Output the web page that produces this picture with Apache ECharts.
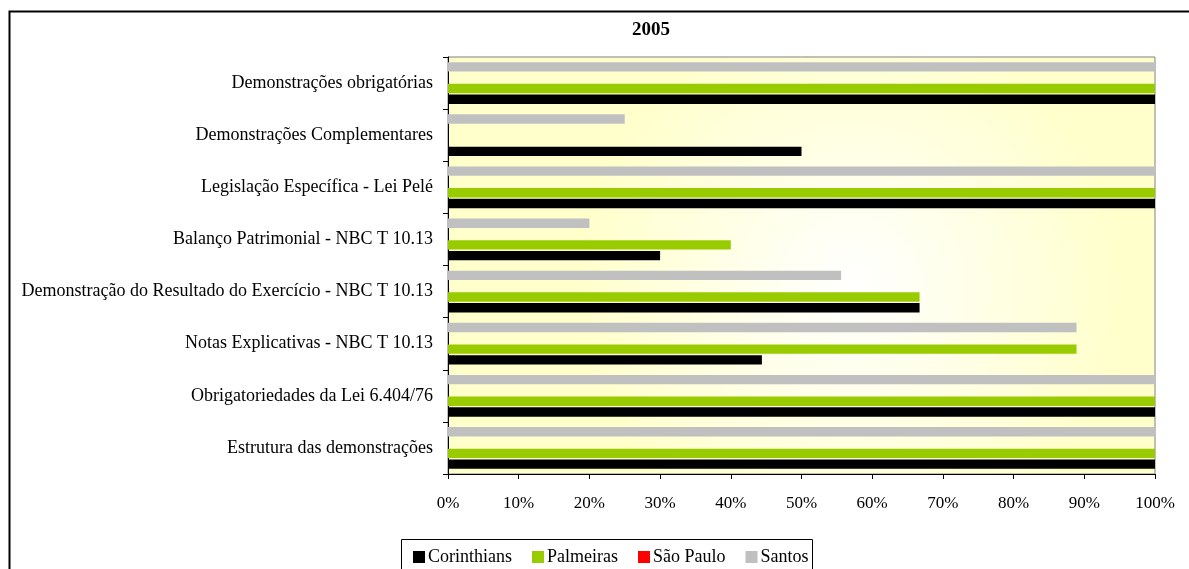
<!DOCTYPE html>
<html>
<head>
<meta charset="utf-8">
<script src="https://cdn.jsdelivr.net/npm/echarts@6/dist/echarts.min.js"></script>
<style>html,body{margin:0;padding:0;background:#fff}#c{width:1189px;height:569px}</style>
</head>
<body>
<div id="c"></div>
<script>
var categories = [
  'Estrutura das demonstrações',
  'Obrigatoriedades da Lei 6.404/76',
  'Notas Explicativas - NBC T 10.13',
  'Demonstração do Resultado do Exercício - NBC T 10.13',
  'Balanço Patrimonial - NBC T 10.13',
  'Legislação Específica - Lei Pelé',
  'Demonstrações Complementares',
  'Demonstrações obrigatórias'
];
var corinthians = [100, 100, 44.4, 66.7, 30, 100, 50, 100];
var palmeiras   = [100, 100, 88.9, 66.7, 40, 100, 0, 100];
var saoPaulo    = [0, 0, 0, 0, 0, 0, 0, 0];
var santos      = [100, 100, 88.9, 55.6, 20, 100, 25, 100];
var xTicks = [0, 10, 20, 30, 40, 50, 60, 70, 80, 90, 100];

var font = 'Liberation Serif, Times New Roman, serif';
var chart = echarts.init(document.getElementById('c'), null, {renderer: 'canvas'});

function mk(name, data, color) {
  return {
    name: name, type: 'bar', data: data,
    itemStyle: {color: color},
    barCategoryGap: '20%', barGap: '15%',
    animation: false
  };
}

chart.setOption({
  animation: false,
  textStyle: {fontFamily: font},
  title: {
    text: '2005', left: 627, top: 16,
    textStyle: {fontFamily: font, fontSize: 19, fontWeight: 'bold', color: '#000'}
  },
  graphic: [
    {type: 'rect', left: 7, top: 9, shape: {width: 1250, height: 650}, silent: true,
     style: {fill: null, stroke: '#000', lineWidth: 2}, z: -10},
    {type: 'rect', left: 401, top: 539, shape: {width: 411, height: 60}, silent: true,
     style: {fill: '#fff', stroke: '#000', lineWidth: 1}, z: 0}
  ],
  grid: {
    left: 448, right: 34, top: 57, bottom: 95, show: true,
    borderColor: '#808080', borderWidth: 1,
    backgroundColor: new echarts.graphic.RadialGradient(0.57, 0.55, 0.65, [
      {offset: 0, color: '#ffffff'},
      {offset: 1, color: '#ffffcc'}
    ])
  },
  legend: {
    left: 413, top: 548, padding: 0, itemWidth: 12, itemHeight: 12, itemGap: 20, icon: 'rect',
    textStyle: {fontFamily: font, fontSize: 18, color: '#000', padding: [0, 0, 0, -2]},
    data: ['Corinthians', 'Palmeiras', 'São Paulo', 'Santos'],
    z: 5
  },
  xAxis: {
    type: 'value', min: 0, max: 100, interval: 10,
    axisLine: {show: true, lineStyle: {color: '#000', width: 1}},
    axisTick: {show: true, length: 5, inside: false, lineStyle: {color: '#000'}},
    splitLine: {show: false},
    axisLabel: {
      fontFamily: font, fontSize: 17, color: '#000', margin: 21,
      formatter: function (v) { return xTicks.indexOf(v) >= 0 ? v + '%' : ''; }
    }
  },
  yAxis: {
    type: 'category', data: categories,
    axisLine: {show: true, lineStyle: {color: '#000', width: 1}},
    axisTick: {show: true, length: 5, lineStyle: {color: '#000'}},
    axisLabel: {fontFamily: font, fontSize: 18, color: '#000', margin: 15}
  },
  series: [
    mk('Santos', santos, '#c0c0c0'),
    mk('São Paulo', saoPaulo, '#ff0000'),
    mk('Palmeiras', palmeiras, '#99cc00'),
    mk('Corinthians', corinthians, '#000000')
  ]
});
</script>
</body>
</html>
